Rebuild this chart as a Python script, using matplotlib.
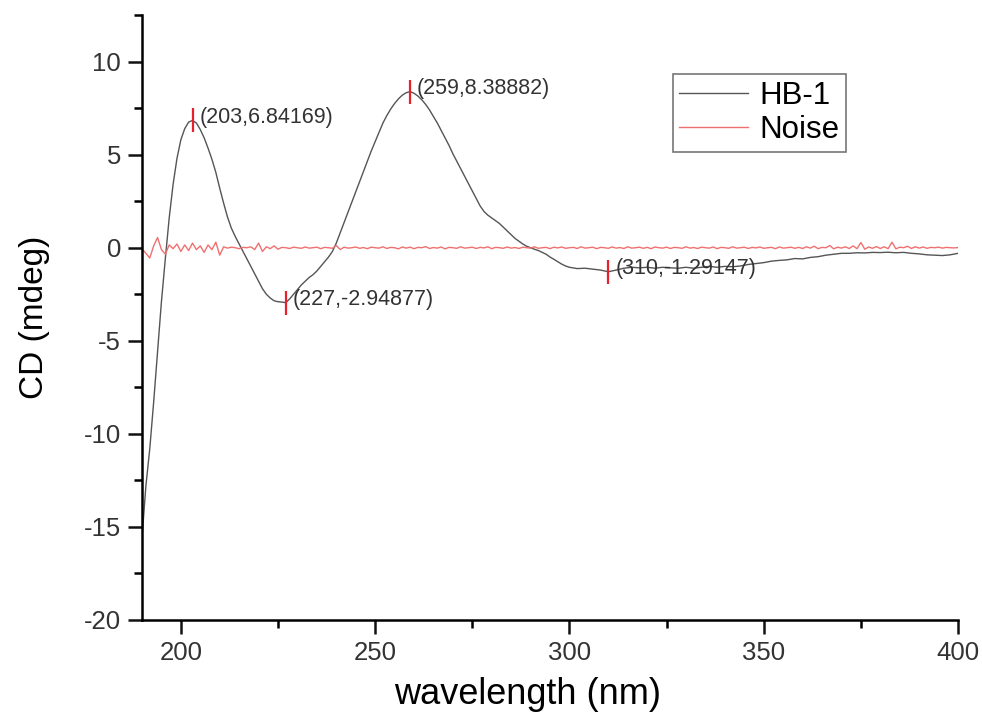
import matplotlib
matplotlib.use("Agg")
import matplotlib.pyplot as plt
from matplotlib.ticker import MultipleLocator

plt.rcParams['font.family'] = ['Liberation Sans', 'DejaVu Sans']
plt.rcParams['axes.unicode_minus'] = False

# --- data ---
wl_hb = [190, 191, 192, 193, 194, 195, 196, 197, 198, 199,
         200, 201, 202, 203, 204, 205, 206, 207, 208, 209,
         210, 211, 212, 213, 214, 215, 216, 217, 218, 219,
         220, 221, 222, 223, 224, 225, 226, 227, 228, 229,
         230, 231, 232, 233, 234, 235, 236, 237, 238, 239,
         240, 241, 242, 243, 244, 245, 246, 247, 248, 249,
         250, 251, 252, 253, 254, 255, 256, 257, 258, 259,
         260, 261, 262, 263, 264, 265, 266, 267, 268, 269,
         270, 271, 272, 273, 274, 275, 276, 277, 278, 279,
         280, 281, 282, 283, 284, 285, 286, 287, 288, 289,
         290, 291, 292, 293, 294, 295, 296, 297, 298, 299,
         300, 302, 304, 306, 308, 310, 312, 314, 316, 318,
         320, 322, 324, 326, 328, 330, 332, 334, 336, 338,
         340, 342, 344, 346, 348, 350, 352, 354, 356, 358,
         360, 362, 364, 366, 368, 370, 372, 374, 376, 378,
         380, 382, 384, 386, 388, 390, 392, 394, 396, 398, 400]
cd_hb = [-15.6, -12.8, -10.8, -8.3, -5.6, -2.9, -0.6, 1.6, 3.4, 4.8,
         5.8, 6.4, 6.75, 6.84, 6.7, 6.35, 5.9, 5.35, 4.75, 4.05,
         3.2, 2.4, 1.65, 1.05, 0.6, 0.2, -0.2, -0.6, -1.0, -1.4,
         -1.8, -2.2, -2.5, -2.7, -2.85, -2.9, -2.92, -2.95, -2.75, -2.5,
         -2.25, -2.0, -1.8, -1.6, -1.45, -1.25, -1.0, -0.75, -0.5, -0.2,
         0.25, 0.8, 1.35, 1.9, 2.45, 3.0, 3.55, 4.1, 4.65, 5.2,
         5.7, 6.2, 6.7, 7.1, 7.45, 7.75, 8.0, 8.2, 8.33, 8.39,
         8.3, 8.15, 7.95, 7.7, 7.4, 7.05, 6.7, 6.3, 5.9, 5.5,
         5.05, 4.65, 4.25, 3.85, 3.45, 3.05, 2.65, 2.25, 1.95, 1.75,
         1.6, 1.45, 1.3, 1.1, 0.9, 0.7, 0.5, 0.35, 0.2, 0.08,
         0.0, -0.08, -0.15, -0.25, -0.35, -0.5, -0.62, -0.75, -0.88, -0.98,
         -1.05, -1.12, -1.1, -1.15, -1.2, -1.29, -1.2, -1.1, -1.05, -1.08,
         -1.05, -1.1, -1.05, -1.08, -1.1, -1.05, -1.1, -1.05, -1.0, -1.05,
         -1.0, -1.02, -0.98, -0.9, -0.85, -0.8, -0.72, -0.68, -0.65, -0.58,
         -0.6, -0.52, -0.48, -0.4, -0.35, -0.3, -0.3, -0.27, -0.28, -0.25,
         -0.26, -0.24, -0.27, -0.25, -0.3, -0.33, -0.38, -0.4, -0.42, -0.38, -0.3]

wl_noise = list(range(190, 401))
cd_noise = [-0.05, -0.3, -0.55, 0.1, 0.55, -0.1, -0.35, 0.15, -0.05, 0.2,
            -0.2, 0.15, -0.15, 0.25, -0.1, 0.1, -0.25, 0.15, -0.1, 0.3,
            -0.4, 0.05, -0.02, 0.03, 0.0, -0.05, 0.02, 0.0, 0.05, -0.1,
            0.25, -0.2, 0.05, -0.05, 0.1, -0.08, 0.02, 0.0, -0.04, 0.03,
            0.0, -0.03, 0.04, -0.02, 0.0, 0.03, -0.05, 0.02, 0.0, -0.03,
            0.12, -0.1, 0.03, -0.02, 0.0, 0.04, -0.03, 0.01, -0.05, 0.03,
            0.0, -0.02, 0.05, -0.04, 0.02, 0.0, -0.06, 0.04, -0.02, 0.03,
            -0.05, 0.02, 0.0, 0.06, -0.04, 0.01, -0.02, 0.04, -0.06, 0.02,
            0.0, -0.03, 0.05, -0.02, 0.0, 0.03, -0.04, 0.02, -0.01, 0.05,
            -0.05, 0.02, 0.0, -0.03, 0.04, -0.02, 0.01, -0.04, 0.03, 0.0,
            -0.02, 0.05, -0.03, 0.0, 0.02, -0.05, 0.03, -0.01, 0.04, -0.03,
            0.0, 0.02, -0.04, 0.05, -0.02, 0.0, 0.03, -0.05, 0.02, 0.0,
            -0.03, 0.04, -0.02, 0.01, -0.04, 0.05, -0.02, 0.0, 0.03, -0.03,
            0.02, -0.05, 0.04, 0.0, -0.02, 0.03, -0.04, 0.02, 0.0, -0.03,
            0.05, -0.02, 0.01, -0.04, 0.03, 0.0, -0.02, 0.04, -0.05, 0.02,
            0.0, -0.03, 0.05, -0.02, 0.0, 0.03, -0.04, 0.02, -0.01, 0.04,
            -0.03, 0.0, 0.02, -0.05, 0.04, -0.02, 0.0, 0.03, -0.03, 0.02,
            -0.04, 0.05, -0.02, 0.08, -0.05, 0.02, 0.0, 0.12, -0.06, 0.03,
            -0.02, 0.05, -0.04, 0.1, -0.05, 0.28, -0.08, 0.04, -0.03, 0.06,
            -0.04, 0.05, -0.05, 0.3, -0.06, 0.03, 0.0, 0.08, -0.04, 0.05,
            -0.02, 0.04, -0.03, 0.02, 0.0, 0.03, -0.02, 0.02, 0.0, -0.01, 0.01]

peak_wl = [203, 227, 259, 310]
peak_cd = [6.84169, -2.94877, 8.38882, -1.29147]

fig = plt.figure(figsize=(9.82, 7.18), dpi=100)
ax = fig.add_axes([0.1446, 0.1365, 0.8310, 0.8425])

ax.plot(wl_hb, cd_hb, color='#555555', lw=1.0, label='HB-1')
ax.plot(wl_noise, cd_noise, color='#f07070', lw=1.0, label='Noise')

# peak markers and labels
ax.plot(peak_wl, peak_cd, ls='none', marker='|', color='#e8202a',
        markersize=17, mew=1.6)
for w, c in zip(peak_wl, peak_cd):
    ax.annotate(f"({w},{c})", (w, c), xytext=(5, 2), textcoords='offset points',
                ha='left', va='center', fontsize=15.5, color='#333333')

ax.set_xlim(190, 400)
ax.set_ylim(-20, 12.5)
ax.xaxis.set_major_locator(MultipleLocator(50))
ax.xaxis.set_minor_locator(MultipleLocator(25))
ax.yaxis.set_major_locator(MultipleLocator(5))
ax.yaxis.set_minor_locator(MultipleLocator(2.5))

for s in ['top', 'right']:
    ax.spines[s].set_visible(False)
for s in ['left', 'bottom']:
    ax.spines[s].set_linewidth(1.8)

ax.tick_params(which='major', direction='out', length=10, width=1.8,
               labelsize=18.5, pad=5, colors='#111111')
ax.tick_params(which='minor', direction='out', length=6, width=1.8)
for lab in ax.get_xticklabels() + ax.get_yticklabels():
    lab.set_color('#333333')

ax.set_xlabel('wavelength (nm)', fontsize=26)
ax.xaxis.set_label_coords(0.473, -0.094)
ax.set_ylabel('CD (mdeg)', fontsize=24)
ax.yaxis.set_label_coords(-0.113, 0.5)

leg = ax.legend(loc='upper left', bbox_to_anchor=(0.651, 0.902), fontsize=22.5,
                frameon=True, fancybox=False, handlelength=2.2,
                borderpad=0.2, labelspacing=0.15, handletextpad=0.35,
                borderaxespad=0)
leg.get_frame().set_edgecolor('#555555')
leg.get_frame().set_linewidth(1.2)

fig.savefig('out.png', dpi=100)
